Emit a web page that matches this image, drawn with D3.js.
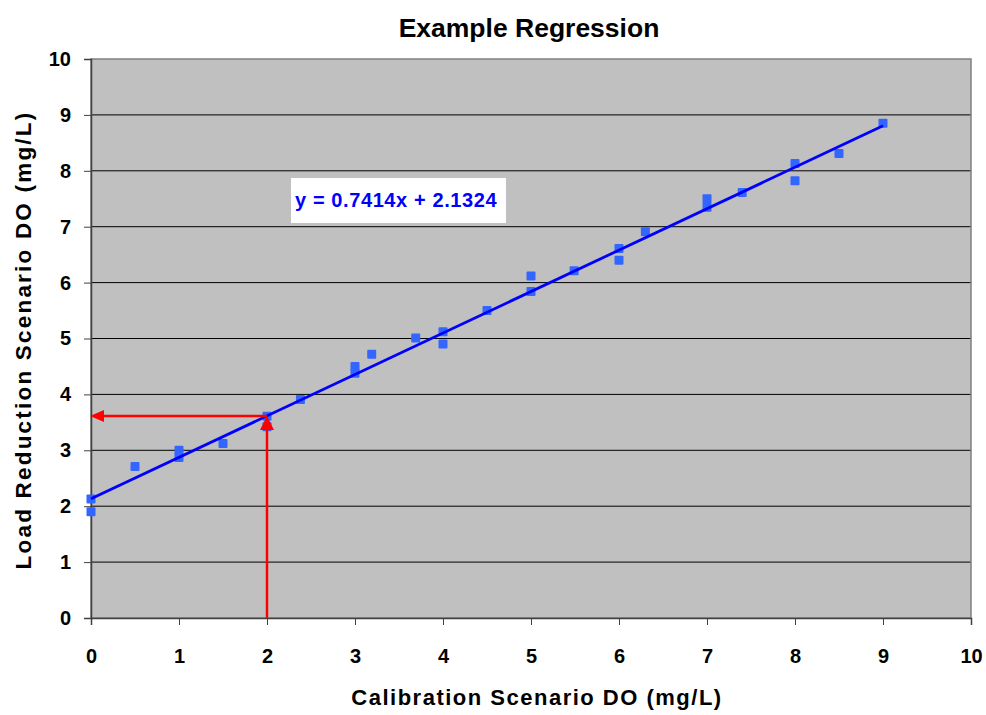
<!DOCTYPE html>
<html><head><meta charset="utf-8">
<script src="https://cdn.jsdelivr.net/npm/d3@7"></script>
<style>body{margin:0;background:#fff;}svg{display:block;font-family:"Liberation Sans",Arial,sans-serif;}</style>
</head><body>
<svg id="c" width="986" height="715"></svg>
<script>
const calibrationDO = [0,0,0.5,1,1,1.5,2,2,2.38,3,3,3.19,3.69,4,4,4.5,5,5,5.49,6,6,6.3,7,7,7.4,8,8,8.5,9];
const loadReductionDO = [2.13,1.9,2.71,3.0,2.87,3.12,3.61,3.42,3.91,4.5,4.38,4.72,5.01,5.12,4.9,5.5,6.12,5.84,6.21,6.61,6.4,6.91,7.5,7.35,7.61,8.13,7.82,8.31,8.85];
const trendSlope = 0.7414, trendIntercept = 2.1324;
const trendRange = [0, 9];
const arrowX = 2;
const xTicks = [0,1,2,3,4,5,6,7,8,9,10];
const yTicks = [0,1,2,3,4,5,6,7,8,9,10];

const svg = d3.select("#c");
const L = 91, R = 971, T = 59, B = 618;
const x = d3.scaleLinear().domain([0,10]).range([L,R]);
const y = d3.scaleLinear().domain([0,10]).range([B,T]);

svg.append("rect").attr("x",L).attr("y",T).attr("width",R-L).attr("height",B-T).attr("fill","#c0c0c0");
svg.append("g").selectAll("line").data(yTicks.filter(d=>d>0&&d<10)).join("line")
  .attr("x1",L).attr("x2",R).attr("y1",d=>y(d)).attr("y2",d=>y(d)).attr("stroke","#000").attr("stroke-width",1);
svg.append("rect").attr("x",L).attr("y",T).attr("width",R-L).attr("height",B-T).attr("fill","none").attr("stroke","#808080").attr("stroke-width",1.5);

const xa = svg.append("g").attr("transform",`translate(0,${B})`).call(d3.axisBottom(x).tickValues(xTicks).tickSize(7).tickPadding(24).tickFormat(d3.format("d")));
const ya = svg.append("g").attr("transform",`translate(${L},0)`).call(d3.axisLeft(y).tickValues(yTicks).tickSize(7).tickPadding(13).tickFormat(d3.format("d")));
[xa,ya].forEach(a=>{
  a.select(".domain").attr("stroke","#404040").attr("stroke-width",1.5);
  a.selectAll(".tick line").attr("stroke","#404040");
  a.selectAll("text").attr("font-size",20).attr("font-weight","bold").attr("fill","#000").attr("font-family","'Liberation Sans',Arial,sans-serif");
});

svg.append("g").selectAll("rect").data(calibrationDO.map((d,i)=>[d,loadReductionDO[i]])).join("rect")
  .attr("x",d=>x(d[0])-4.5).attr("y",d=>y(d[1])-4.5).attr("width",9).attr("height",9).attr("rx",1)
  .attr("fill","#3366ff");

svg.append("path").datum(trendRange).attr("fill","none").attr("stroke","#0000ff").attr("stroke-width",2.8)
  .attr("d",d3.line().x(d=>x(d)).y(d=>y(trendSlope*d+trendIntercept)));

const ay = trendSlope*arrowX + trendIntercept;
const red = "#ff0000";
svg.append("line").attr("x1",x(arrowX)).attr("x2",x(arrowX)).attr("y1",y(0)).attr("y2",y(ay)+12).attr("stroke",red).attr("stroke-width",2.5);
svg.append("path").attr("fill",red).attr("d",`M${x(arrowX)},${y(ay)} L${x(arrowX)-7},${y(ay)+14} L${x(arrowX)+7},${y(ay)+14} Z`);
svg.append("line").attr("x1",x(arrowX)).attr("x2",x(0)+12).attr("y1",y(ay)).attr("y2",y(ay)).attr("stroke",red).attr("stroke-width",2.5);
svg.append("path").attr("fill",red).attr("d",`M${x(0)-1},${y(ay)} L${x(0)+13},${y(ay)-6} L${x(0)+13},${y(ay)+6} Z`);

svg.append("rect").attr("x",291).attr("y",178).attr("width",215).attr("height",45).attr("fill","#fff");
svg.append("text").attr("x",295).attr("y",207).attr("font-size",20).attr("font-weight","bold").attr("fill","#0000ff")
  .attr("letter-spacing",0.6).text(`y = ${trendSlope}x + ${trendIntercept}`);

svg.append("text").attr("x",529).attr("y",37).attr("text-anchor","middle").attr("font-size",26.5).attr("font-weight","bold").text("Example Regression");
svg.append("text").attr("x",537).attr("y",705).attr("text-anchor","middle").attr("font-size",22).attr("font-weight","bold").attr("letter-spacing",1.5).text("Calibration Scenario DO (mg/L)");
svg.append("text").attr("transform","translate(31,340) rotate(-90)").attr("text-anchor","middle").attr("font-size",22.5).attr("font-weight","bold").attr("letter-spacing",2.2).text("Load Reduction Scenario DO (mg/L)");
</script>
</body></html>
